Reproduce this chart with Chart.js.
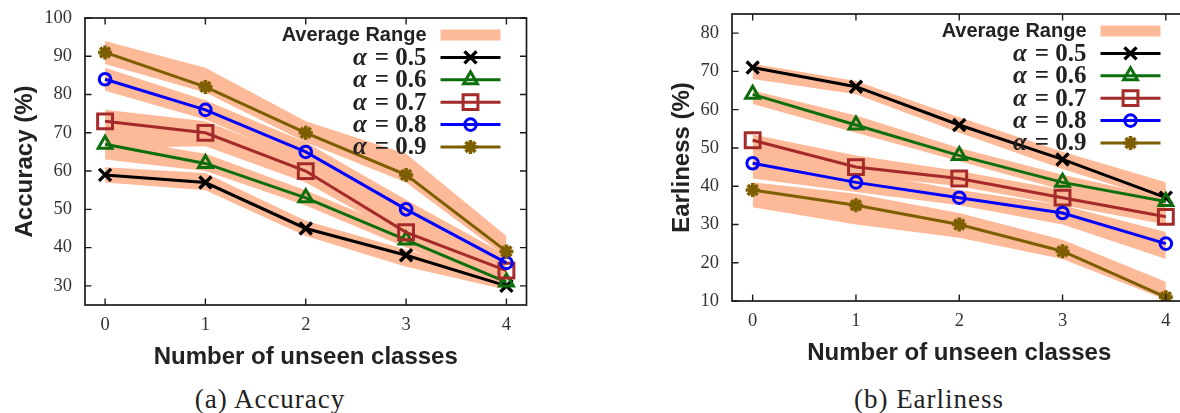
<!DOCTYPE html>
<html>
<head>
<meta charset="utf-8">
<script src="https://cdn.jsdelivr.net/npm/chart.js@4.4.1/dist/chart.umd.min.js"></script>
<style>
html, body { margin: 0; padding: 0; background: #fff; overflow: hidden; width: 1180px; height: 413px; }
#accChart { position: absolute; left: 0; top: 0; }
#earChart { position: absolute; left: 590px; top: 0; }
.cap { position: absolute; font-family: "Liberation Serif", serif; font-size: 27px; letter-spacing: 1px; color: #222; white-space: nowrap; transform: translate(-50%, -50%); }
</style>
</head>
<body>
<canvas id="accChart" width="540" height="380" style="width:540px;height:380px"></canvas>
<canvas id="earChart" width="610" height="376" style="width:610px;height:376px"></canvas>
<div class="cap" style="left:270px;top:399px">(a) Accuracy</div>
<div class="cap" style="left:929px;top:399px">(b) Earliness</div>
<script>
// ---------------- data ----------------
const unseenClasses = [0, 1, 2, 3, 4];
const alphaValues = ['0.5', '0.6', '0.7', '0.8', '0.9'];
const bandLabel = 'Average Range';
const xAxisTitle = 'Number of unseen classes';
const accuracyTicks = [30, 40, 50, 60, 70, 80, 90, 100];
const earlinessTicks = [10, 20, 30, 40, 50, 60, 70, 80];

// Accuracy (%)
const accuracy05 = [59, 57, 45, 38, 30];
const accuracy06 = [67, 62, 53, 42, 31];
const accuracy07 = [73, 70, 60, 44, 34];
const accuracy08 = [84, 76, 65, 50, 36];
const accuracy09 = [91, 82, 70, 59, 39];
const accuracyLow05 = [57, 55, 43, 35, 29];
const accuracyHigh05 = [61, 59.5, 47, 39.5, 32];
const accuracyLow06 = [63, 60, 51, 40, 29.5];
const accuracyHigh06 = [69, 64.5, 55, 44, 33];
const accuracyLow07 = [66, 66.5, 57, 42.5, 31.5];
const accuracyHigh07 = [76, 73, 63, 47, 36];
const accuracyLow08 = [81, 73.5, 62.5, 47, 33.5];
const accuracyHigh08 = [87, 78.5, 67.5, 52.5, 38];
const accuracyLow09 = [88, 80.5, 67.5, 57, 37.5];
const accuracyHigh09 = [94, 87, 73, 64.5, 43];

// Earliness (%)
const earliness05 = [71, 66, 56, 47, 37];
const earliness06 = [64, 56, 48, 41, 36];
const earliness07 = [52, 45, 42, 37, 32];
const earliness08 = [46, 41, 37, 33, 25];
const earliness09 = [39, 35, 30, 23, 11];
const earlinessLow05 = [68, 64, 54, 44.5, 36];
const earlinessHigh05 = [72, 67.5, 58, 49, 41];
const earlinessLow06 = [61.5, 54, 46.5, 39, 33.5];
const earlinessHigh06 = [65, 58.5, 50, 43, 37];
const earlinessLow07 = [47.5, 43, 40, 35, 30];
const earlinessHigh07 = [53.5, 48, 44, 39, 34];
const earlinessLow08 = [42, 38.5, 35, 30, 21];
const earlinessHigh08 = [49, 44, 39, 35, 28];
const earlinessLow09 = [34.5, 30, 26.5, 21, 10.3];
const earlinessHigh09 = [41, 38, 33, 26, 15];

// ---------------- styles ----------------
const bandColor = '#FDBA98';
const seriesColors = ['#000000', '#0d6e0d', '#a52a2a', '#0000ff', '#7d5e00'];
const seriesPointStyles = ['crossRot', 'triangle', 'rect', 'circle', 'star'];
const seriesPointRadius = [8.5, 8, 10.5, 5.8, 7];
const seriesPointBorder = [3.4, 3, 3, 3, 3.6];
const tickFont = { family: '"Liberation Serif", "Times New Roman", serif', size: 18.5 };
const titleFont = { family: '"Liberation Sans", Arial, sans-serif', size: 24, weight: 'bold' };

function pts(arr) { return unseenClasses.map((c, i) => ({ x: c, y: arr[i] })); }

function buildDatasets(values, lows, highs) {
  const ds = [];
  for (let i = 0; i < values.length; i++) {
    ds.push({ order: 50, data: pts(lows[i]), borderColor: 'rgba(0,0,0,0)', borderWidth: 0, pointRadius: 0, fill: false, backgroundColor: bandColor });
    ds.push({ order: 50, data: pts(highs[i]), borderColor: 'rgba(0,0,0,0)', borderWidth: 0, pointRadius: 0, fill: '-1', backgroundColor: bandColor });
  }
  for (let i = 0; i < values.length; i++) {
    ds.push({
      order: 10 - i,
      isSeries: true,
      label: 'α = ' + alphaValues[i],
      alpha: alphaValues[i],
      data: pts(values[i]),
      borderColor: seriesColors[i],
      borderWidth: 3,
      fill: false,
      pointStyle: seriesPointStyles[i],
      pointRadius: seriesPointRadius[i],
      pointBorderWidth: seriesPointBorder[i],
      pointBorderColor: seriesColors[i],
      pointBackgroundColor: 'rgba(0,0,0,0)',
      tension: 0
    });
  }
  return ds;
}

const framePlugin = {
  id: 'frameTicks',
  afterDatasetsDraw(chart) {
    const { ctx, chartArea: a, scales } = chart;
    const L = 6.5;
    ctx.save();
    ctx.strokeStyle = '#1a1a1a';
    ctx.lineWidth = 1.4;
    ctx.beginPath();
    scales.x.ticks.forEach(t => {
      const px = scales.x.getPixelForValue(t.value);
      ctx.moveTo(px, a.bottom); ctx.lineTo(px, a.bottom - L);
      ctx.moveTo(px, a.top); ctx.lineTo(px, a.top + L);
    });
    scales.y.ticks.forEach(t => {
      const py = scales.y.getPixelForValue(t.value);
      ctx.moveTo(a.left, py); ctx.lineTo(a.left + L, py);
      ctx.moveTo(a.right, py); ctx.lineTo(a.right - L, py);
    });
    ctx.stroke();
    ctx.lineWidth = 1.7;
    ctx.strokeRect(a.left, a.top, a.right - a.left, a.bottom - a.top);
    ctx.restore();
  }
};

function drawMarker(ctx, style, r, x, y) {
  if (Chart.helpers && Chart.helpers.drawPoint) {
    Chart.helpers.drawPoint(ctx, { pointStyle: style, radius: r, borderWidth: ctx.lineWidth, rotation: 0 }, x, y);
    return;
  }
  ctx.beginPath();
  ctx.arc(x, y, r, 0, Math.PI * 2);
  ctx.stroke();
}

const legendPlugin = {
  id: 'insideLegend',
  afterDatasetsDraw(chart) {
    const { ctx, chartArea: a } = chart;
    const sampleW = 60;
    const sRight = a.right - 26;
    const sLeft = sRight - sampleW;
    const textRight = sLeft - 14;
    const rowH = 22.4;
    let y = a.top + 17;
    ctx.save();
    ctx.fillStyle = bandColor;
    ctx.fillRect(sLeft, y - 5.5, sampleW, 11);
    ctx.fillStyle = '#222';
    ctx.textAlign = 'right';
    ctx.textBaseline = 'middle';
    ctx.font = 'bold 20px "Liberation Sans", Arial, sans-serif';
    ctx.fillText(bandLabel, textRight, y);
    chart.data.datasets.filter(d => d.isSeries).forEach(d => {
      y += rowH;
      ctx.strokeStyle = d.borderColor;
      ctx.lineWidth = 3;
      ctx.beginPath();
      ctx.moveTo(sLeft, y); ctx.lineTo(sRight, y);
      ctx.stroke();
      ctx.lineWidth = d.pointBorderWidth;
      ctx.fillStyle = 'rgba(0,0,0,0)';
      drawMarker(ctx, d.pointStyle, d.pointRadius, (sLeft + sRight) / 2, y);
      ctx.fillStyle = '#222';
      ctx.font = 'bold 25px "Liberation Serif", serif';
      const rest = '= ' + d.alpha;
      ctx.fillText(rest, textRight, y + 1);
      const w = ctx.measureText(rest).width;
      ctx.font = 'italic bold 25px "Liberation Serif", serif';
      ctx.fillText('α', textRight - w - 8, y + 1);
    });
    ctx.restore();
  }
};

function makeChart(id, cfg) {
  return new Chart(document.getElementById(id), {
    type: 'line',
    data: { datasets: buildDatasets(cfg.values, cfg.lows, cfg.highs) },
    options: {
      responsive: false,
      animation: false,
      devicePixelRatio: 1,
      layout: { padding: { top: cfg.padTop, right: 11, left: 0, bottom: 0 } },
      plugins: {
        legend: { display: false },
        tooltip: { enabled: false },
        filler: { drawTime: 'beforeDatasetsDraw', propagate: false }
      },
      scales: {
        x: {
          type: 'linear', min: -0.2, max: 4.2,
          grid: { display: false, drawTicks: false },
          border: { display: false },
          afterBuildTicks: s => { s.ticks = unseenClasses.map(v => ({ value: v })); },
          ticks: { font: tickFont, color: '#333', padding: 9.4, maxRotation: 0, autoSkip: false, callback: v => String(v) },
          title: { display: true, text: xAxisTitle, font: titleFont, color: '#222', padding: { top: 0, bottom: 8.6 } },
          afterFit: s => { s.height = 75; s.paddingLeft = 0; s.paddingRight = 0; }
        },
        y: {
          type: 'linear', min: cfg.yMin, max: cfg.yMax,
          grid: { display: false, drawTicks: false },
          border: { display: false },
          afterBuildTicks: s => { s.ticks = cfg.yTicks.map(v => ({ value: v })); },
          ticks: { font: tickFont, color: '#333', padding: 13, autoSkip: false, callback: v => String(v) },
          title: { display: true, text: cfg.yTitle, font: titleFont, color: '#222', padding: { top: cfg.yTitlePad, bottom: 0 } },
          afterFit: s => { s.width = cfg.yWidth; s.paddingTop = 0; s.paddingBottom = 0; }
        }
      }
    },
    plugins: [framePlugin, legendPlugin]
  });
}

makeChart('accChart', {
  values: [accuracy05, accuracy06, accuracy07, accuracy08, accuracy09],
  lows: [accuracyLow05, accuracyLow06, accuracyLow07, accuracyLow08, accuracyLow09],
  highs: [accuracyHigh05, accuracyHigh06, accuracyHigh07, accuracyHigh08, accuracyHigh09],
  yTicks: accuracyTicks, yMin: 25, yMax: 100,
  yTitle: 'Accuracy (%)', yTitlePad: 10.6, yWidth: 85, padTop: 18
});

makeChart('earChart', {
  values: [earliness05, earliness06, earliness07, earliness08, earliness09],
  lows: [earlinessLow05, earlinessLow06, earlinessLow07, earlinessLow08, earlinessLow09],
  highs: [earlinessHigh05, earlinessHigh06, earlinessHigh07, earlinessHigh08, earlinessHigh09],
  yTicks: earlinessTicks, yMin: 10, yMax: 85,
  yTitle: 'Earliness (%)', yTitlePad: 77.6, yWidth: 142, padTop: 14
});
</script>
</body>
</html>
